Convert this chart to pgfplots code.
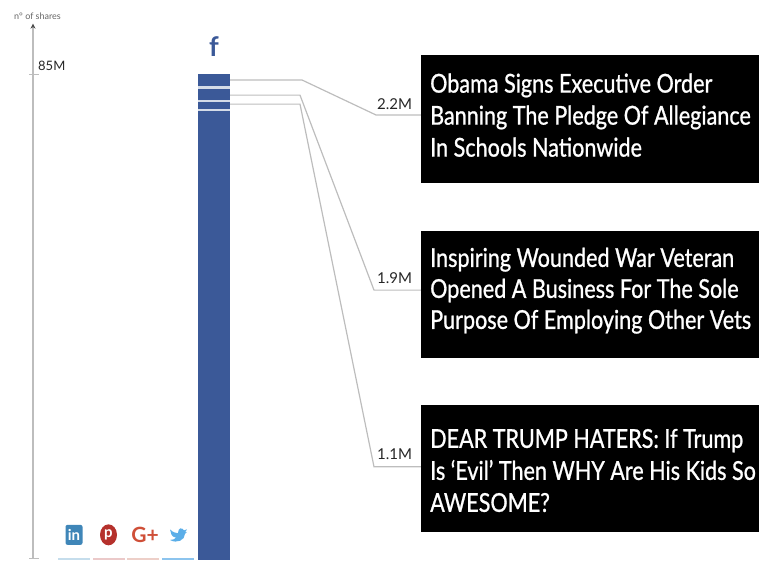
\documentclass[border=0pt]{standalone}
\usepackage{fontspec}
\usepackage{pgfplots}
\pgfplotsset{compat=1.18}
\usetikzlibrary{arrows.meta,shapes.geometric}
\setmainfont{Lato}
\newfontfamily\headfont[FakeStretch=0.83,FakeBold=0.9]{Lato}
\definecolor{fbblue}{HTML}{3B5998}
\definecolor{gapblue}{HTML}{D5DCE8}
\definecolor{lineg}{HTML}{BDBDBD}
\definecolor{libar}{HTML}{C5DDEC}
\definecolor{pibar}{HTML}{EBC9C9}
\definecolor{gpbar}{HTML}{EDCFC8}
\definecolor{twbar}{HTML}{8CC4EE}
\definecolor{liblue}{HTML}{3F86B8}
\definecolor{pired}{HTML}{B5312C}
\definecolor{gpred}{HTML}{CF4F38}
\definecolor{twblue}{HTML}{5BAEE8}
\begin{document}
\begin{tikzpicture}
  \begin{axis}[
      width=759pt,
      height=560pt,
      scale only axis,
      axis lines=none,
      xmin=0, xmax=759,
      ymin=0, ymax=97.94,
      clip=true,
      ybar,
      bar shift=0pt,
      bar width=32pt,
    ]
    % page size comes from the axis box, the hidden axis does not count
    \path[use as bounding box] (rel axis cs:0,0) rectangle (rel axis cs:1,1);

    % facebook bar, nested from the top down, white-ish gaps between the three stories
    \addplot[fill=fbblue, draw=none] coordinates {(214,85)};
    \addplot[fill=gapblue, draw=none] coordinates {(214,82.85)};
    \addplot[fill=fbblue, draw=none] coordinates {(214,82.3)};
    \addplot[fill=gapblue, draw=none] coordinates {(214,80.4)};
    \addplot[fill=fbblue, draw=none] coordinates {(214,80.05)};
    \addplot[fill=gapblue, draw=none] coordinates {(214,78.95)};
    \addplot[fill=fbblue, draw=none] coordinates {(214,78.45)};
    % other networks
    \addplot[fill=libar, draw=none] coordinates {(74,0.35)};
    \addplot[fill=pibar, draw=none] coordinates {(108.5,0.35)};
    \addplot[fill=gpbar, draw=none] coordinates {(142.5,0.35)};
    \addplot[fill=twbar, draw=none] coordinates {(178,0.35)};

    % y axis
    \addplot[ybar=false, sharp plot, lineg, line width=1.4pt, -{Stealth[length=5pt,width=5pt,color=black!70]}] coordinates {(33,0.35) (33,93.8)};
    \addplot[ybar=false, sharp plot, lineg, line width=0.8pt] coordinates {(29,85) (39,85)};
    \addplot[ybar=false, sharp plot, lineg, line width=0.8pt] coordinates {(29,0.35) (39,0.35)};

    % leaders
    \addplot[ybar=false, sharp plot, lineg, line width=1.2pt] coordinates {(230,83.95) (302,83.95) (376,77.83) (421,77.83)};
    \addplot[ybar=false, sharp plot, lineg, line width=1.2pt] coordinates {(230,81.3) (300,81.3) (374,47.2) (421,47.2)};
    \addplot[ybar=false, sharp plot, lineg, line width=1.2pt] coordinates {(230,79.73) (300,79.73) (374,16.3) (421,16.3)};

    \fill[black] (axis cs:421,88.32) rectangle (axis cs:759,65.94);
    \fill[black] (axis cs:421,57.5) rectangle (axis cs:759,35.36);
    \fill[black] (axis cs:421,27.11) rectangle (axis cs:759,4.9);

    \node[anchor=base west, inner sep=0pt, font=\fontsize{9}{9}\selectfont, text=black!60] at (axis cs:14,94.6) {n° of shares};
    \node[anchor=base west, inner sep=0pt, font=\fontsize{13}{13}\selectfont, text=black!85] at (axis cs:38,85.6) {85M};
    \node[anchor=base west, inner sep=0pt, font=\fontsize{15}{15}\selectfont, text=black!85] at (axis cs:377,78.8) {2.2M};
    \node[anchor=base west, inner sep=0pt, font=\fontsize{15}{15}\selectfont, text=black!85] at (axis cs:377,48.4) {1.9M};
    \node[anchor=base west, inner sep=0pt, font=\fontsize{15}{15}\selectfont, text=black!85] at (axis cs:377,17.6) {1.1M};

    \node[anchor=west, inner sep=0pt, align=left, text=white, font=\headfont\fontsize{26}{32}\selectfont] at (axis cs:430,77.8) {Obama Signs Executive Order\\Banning The Pledge Of Allegiance\\In Schools Nationwide};
    \node[anchor=west, inner sep=0pt, align=left, text=white, font=\headfont\fontsize{26}{31}\selectfont] at (axis cs:430,47.1) {Inspiring Wounded War Veteran\\Opened A Business For The Sole\\Purpose Of Employing Other Vets};
    \node[anchor=west, inner sep=0pt, align=left, text=white, font=\headfont\fontsize{26}{32}\selectfont] at (axis cs:430,15.65) {DEAR TRUMP HATERS: If Trump\\Is ‘Evil’ Then WHY Are His Kids So\\AWESOME?};

    % network marks
    \node[text=fbblue, inner sep=0pt, font=\bfseries\fontsize{27}{27}\selectfont] at (axis cs:214,89.8) {f};
    \node[fill=liblue, text=white, rounded corners=2pt, inner sep=0pt, minimum width=17pt, minimum height=20pt, font=\bfseries\fontsize{15}{15}\selectfont] at (axis cs:74,4.4) {in};
    \node[fill=pired, text=white, ellipse, inner sep=0pt, minimum width=17pt, minimum height=21pt, font=\bfseries\fontsize{15}{15}\selectfont] at (axis cs:108.5,4.4) {p};
    \node[text=gpred, inner sep=0pt, font=\bfseries\fontsize{21}{21}\selectfont] at (axis cs:145,4.4) {G+};
    % twitter bird outline
    \fill[twblue] (axis cs:170,5.35) .. controls (axis cs:173,4.82) and (axis cs:176,4.69) .. (axis cs:178,4.69)
      .. controls (axis cs:178,5.62) and (axis cs:182,5.8) .. (axis cs:184,5.18)
      -- (axis cs:187,5.35) -- (axis cs:185,4.82) -- (axis cs:187,4.91) -- (axis cs:185,4.56)
      .. controls (axis cs:185,3.5) and (axis cs:177,2.8) .. (axis cs:170,3.5)
      .. controls (axis cs:173,3.5) and (axis cs:175,3.68) .. (axis cs:176,3.9)
      .. controls (axis cs:173,3.99) and (axis cs:172,4.25) .. (axis cs:171.5,4.43)
      .. controls (axis cs:170.5,4.74) and (axis cs:170,5) .. (axis cs:170,5.35) -- cycle;
  \end{axis}
\end{tikzpicture}
\end{document}
